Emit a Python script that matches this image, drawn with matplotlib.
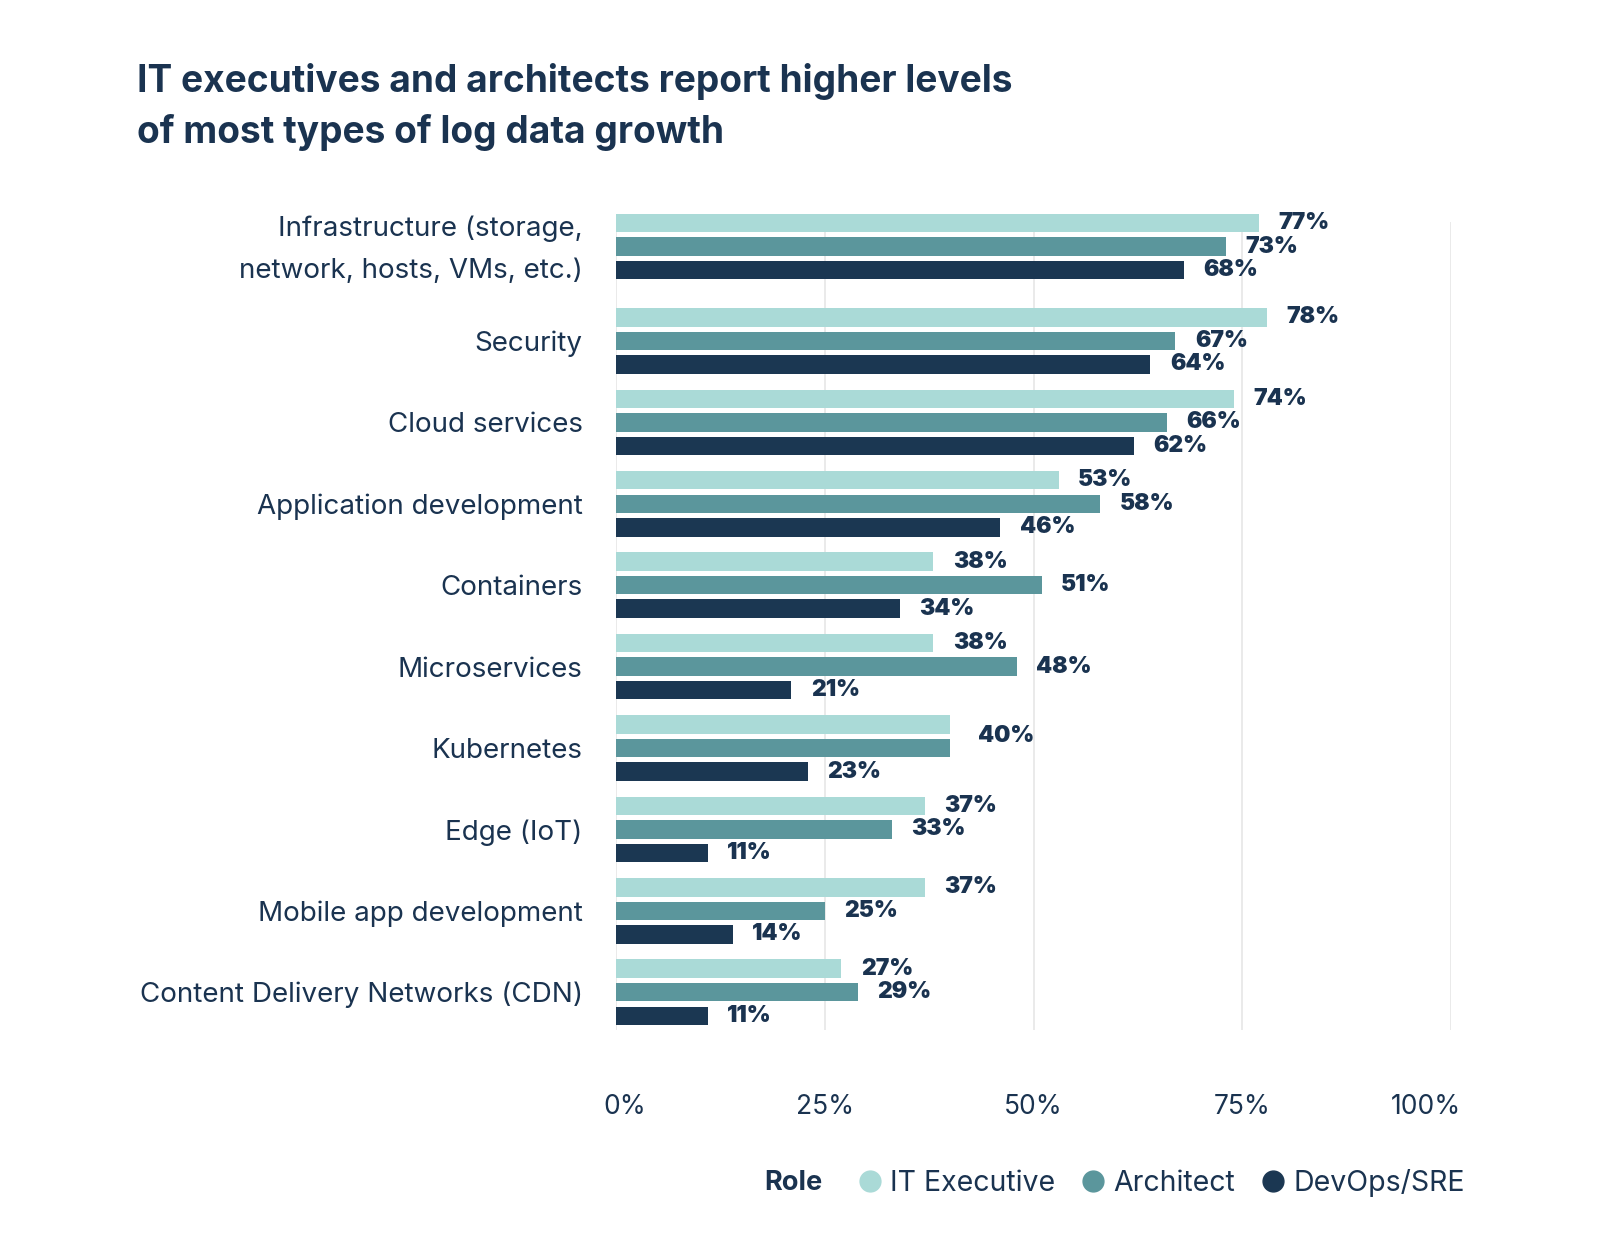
import matplotlib
matplotlib.use("Agg")
import matplotlib.pyplot as plt
from matplotlib.lines import Line2D
from matplotlib.transforms import ScaledTranslation
import numpy as np

plt.rcParams['font.family'] = ['Inter', 'DejaVu Sans']

# data
categories = [
    "Infrastructure (storage,\nnetwork, hosts, VMs, etc.)",
    "Security",
    "Cloud services",
    "Application development",
    "Containers",
    "Microservices",
    "Kubernetes",
    "Edge (IoT)",
    "Mobile app development",
    "Content Delivery Networks (CDN)",
]
roles = ["IT Executive", "Architect", "DevOps/SRE"]
it_exec = [77, 78, 74, 53, 38, 38, 40, 37, 37, 27]
architect = [73, 67, 66, 58, 51, 48, 40, 33, 25, 29]
devops = [68, 64, 62, 46, 34, 21, 23, 11, 14, 11]
xticks = [0, 25, 50, 75, 100]

colors = ["#aadad7", "#5b969c", "#1b3752"]
text_col = "#1a3350"
grid_col = "#e8e8e8"

W, H = 1600, 1255
fig = plt.figure(figsize=(W / 100, H / 100), dpi=100)
ax = fig.add_axes([616 / W, 1 - 1030 / H, (1451 - 616) / W, (1030 - 222) / H])

# rows: the first (two-line) group gets a little more room
y = np.arange(len(categories)) + 0.16 * (np.arange(len(categories)) > 0)
step = 0.289
bar_h = 0.227

series = [it_exec, architect, devops]
for k, vals in enumerate(series):
    ax.barh(y + (k - 1) * step, vals, height=bar_h, color=colors[k],
            edgecolor="none", zorder=3, clip_on=False)

# value labels
lab_kw = dict(fontsize=16.5, fontweight=900, color=text_col, va="center",
              ha="left", textcoords="offset points")
for i in range(len(categories)):
    vals = [s[i] for s in series]
    if vals[0] == vals[1]:
        ax.annotate(f"{vals[0]}%", (vals[0], y[i] - step / 2), xytext=(20, 0), **lab_kw)
        ax.annotate(f"{vals[2]}%", (vals[2], y[i] + step), xytext=(14, 0), **lab_kw)
        continue
    for k, v in enumerate(vals):
        ax.annotate(f"{v}%", (v, y[i] + (k - 1) * step), xytext=(14, 0), **lab_kw)

ax.set_xlim(0, 100)
ax.set_ylim(y[-1] + 0.464, -0.301)
ax.set_xticks(xticks)
ax.set_xticklabels([f"{t}%" for t in xticks])
ax.set_yticks(y)
ax.set_yticklabels(categories)
ax.tick_params(axis="x", length=0, pad=46, labelsize=19, labelcolor=text_col)
ax.tick_params(axis="y", length=0, pad=24, labelsize=20, labelcolor=text_col)
for lab in ax.get_yticklabels():
    lab.set_linespacing(1.83)
yl = ax.get_yticklabels()
yl[0].set_transform(yl[0].get_transform() + ScaledTranslation(0, 0.08, fig.dpi_scale_trans))

xl = ax.get_xticklabels()
xl[0].set_transform(xl[0].get_transform() + ScaledTranslation(0.09, 0, fig.dpi_scale_trans))
xl[-1].set_transform(xl[-1].get_transform() + ScaledTranslation(-0.25, 0, fig.dpi_scale_trans))

for s in ax.spines.values():
    s.set_visible(False)
ax.grid(axis="x", color=grid_col, lw=1.3, zorder=0)
ax.grid(axis="y", visible=False)
ax.set_axisbelow(True)

# title
fig.text(137 / W, 1 - 63 / H,
         "IT executives and architects report higher levels\nof most types of log data growth",
         fontsize=26.7, fontweight="bold", color=text_col, va="top", ha="left",
         linespacing=1.48)

# legend
handles = [Line2D([], [], ls="", marker="o", markersize=15, color=c) for c in colors]
leg = fig.legend(handles, roles, loc="center right",
                 bbox_to_anchor=(1476 / W, 1 - 1183 / H), ncol=3, frameon=False,
                 fontsize=20.5, handletextpad=0.3, columnspacing=0.95,
                 handlelength=0.8, borderaxespad=0)
for t in leg.get_texts():
    t.set_color(text_col)
fig.text(823 / W, 1 - 1183 / H, "Role", fontsize=19.5, fontweight="bold",
         color=text_col, ha="right", va="center")

fig.savefig("out.png", dpi=100, facecolor="white")
